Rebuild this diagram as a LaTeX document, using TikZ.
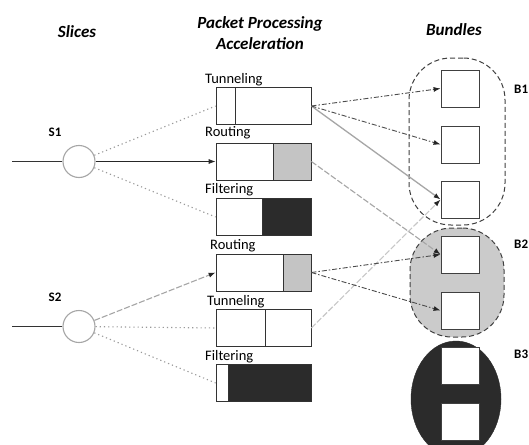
\documentclass[tikz,border=0pt]{standalone}
\usepackage{fontspec}
\setmainfont{Carlito}
\usetikzlibrary{arrows.meta,shapes.geometric,calc}
\pgfdeclarelayer{bg}
\pgfsetlayers{bg,main}
\definecolor{darkfill}{HTML}{2B2B2B}
\definecolor{midgray}{HTML}{C4C4C4}
\definecolor{bundlegray}{HTML}{CBCBCB}
\tikzset{
  titletext/.style={font=\fontsize{17}{21}\selectfont\bfseries\itshape, align=center, inner sep=0pt},
  lbl/.style={font=\fontsize{14.5}{16}\selectfont, anchor=west, inner sep=0pt},
  slbl/.style={font=\fontsize{13}{15}\selectfont\bfseries, inner sep=0pt},
  blbl/.style={font=\fontsize{13}{15}\selectfont\bfseries, anchor=west, inner sep=0pt},
  pbox/.style={draw=black!80, line width=0.8pt, fill=white, minimum width=95pt, minimum height=37pt, inner sep=0pt},
  part/.style 2 args={path picture={
      \fill[#1] ([xshift=-#2]path picture bounding box.north east) rectangle (path picture bounding box.south east);
      \draw[black!80, line width=0.8pt] ([xshift=-#2]path picture bounding box.north east) -- ([xshift=-#2]path picture bounding box.south east);}},
  sq/.style={draw=black!75, line width=0.8pt, fill=white, minimum width=38pt, minimum height=37pt, inner sep=0pt},
  slice/.style={circle, draw=black!35, line width=1.1pt, minimum size=32pt, inner sep=0pt, fill=white},
  bundle/.style={draw=black!75, line width=1pt, dash pattern=on 5pt off 3pt, rounded corners=42pt, inner sep=0pt},
  tip/.style={-{Latex[length=7pt,width=5pt,color=black!85]}},
  darkdash/.style={draw=black!70, line width=0.9pt, dash pattern=on 5pt off 2pt on 1.5pt off 2pt, tip},
  lightline/.style={draw=black!35, line width=1.3pt},
  lightdash/.style={draw=black!35, line width=1.1pt, dash pattern=on 6pt off 2pt},
  dotline/.style={draw=black!40, line width=1.1pt, dash pattern=on 1.2pt off 3pt},
}
\begin{document}
\begin{tikzpicture}[x=1pt,y=-1pt]
\useasboundingbox (0,0) rectangle (529,444);
\fill[white] (0,0) rectangle (529,444);

% titles
\node[titletext] (tS) at (77,32) {Slices};
\node[titletext] (tP) at (260,33) {Packet Processing\\Acceleration};
\node[titletext] (tB) at (454,30) {Bundles};

% slices
\node[slice] (S1) at (79,161.5) {};
\node[slice] (S2) at (79,326.5) {};
\node[slbl] (LS1) at (55,132) {S1};
\node[slbl] (LS2) at (55,297) {S2};
\coordinate (in1) at (12,161.5);
\coordinate (in2) at (12,326.5);
\draw[black!80, line width=0.8pt] (in1) -- (S1);
\draw[black!80, line width=0.8pt] (in2) -- (S2);

% packet processing boxes
\node[pbox, part={white}{76pt}] (T1) at (263.5,106) {};
\node[pbox, part={midgray}{38pt}] (R1) at (263.5,161.5) {};
\node[pbox, part={darkfill}{49pt}] (F1) at (263.5,217) {};
\node[pbox, part={midgray}{28pt}] (R2) at (263.5,272.5) {};
\node[pbox, part={white}{46pt}] (T2) at (263.5,328) {};
\node[pbox, part={darkfill}{83pt}] (F2) at (263.5,383) {};

\node[lbl] (LT1) at (205,80) {Tunneling};
\node[lbl] (LR1) at (205,133) {Routing};
\node[lbl] (LF1) at (205,190) {Filtering};
\node[lbl] (LR2) at (210,246) {Routing};
\node[lbl] (LT2) at (207,302) {Tunneling};
\node[lbl] (LF2) at (205,357) {Filtering};

% bundles
\node[bundle, minimum width=96pt, minimum height=167pt] (B1) at (457,141.5) {};
\node[bundle, fill=bundlegray, minimum width=94pt, minimum height=109pt] (B2) at (457,282.5) {};
\node[ellipse, draw=darkfill, fill=darkfill, minimum width=90pt, minimum height=116pt, inner sep=0pt] (B3) at (456,399) {};

\node[sq] (B1a) at (460,88.5) {};
\node[sq] (B1b) at (460,144.5) {};
\node[sq] (B1c) at (460,199.5) {};
\node[sq] (B2a) at (460,254.5) {};
\node[sq] (B2b) at (460,310.5) {};
\node[sq] (B3a) at (460,365.5) {};
\node[sq] (B3b) at (460,422) {};

\node[blbl] (LB1) at (514,89) {B1};
\node[blbl] (LB2) at (514,244) {B2};
\node[blbl] (LB3) at (514,354) {B3};

% connectors from slices
\draw[dotline] (S1) -- (T1.west);
\draw[black!85, line width=0.8pt, tip] (S1) -- (R1.west);
\draw[dotline] (S1) -- (F1.west);
\draw[lightdash, tip] (S2) -- (R2.west);
\draw[dotline] (S2) -- (T2.west);
\draw[dotline] (S2) -- (F2.west);

% connectors to bundles
\begin{pgfonlayer}{bg}
\draw[lightline] (F1.east) -- (B3a.west);
\draw[lightdash] (F2.east) -- (B3b.west);
\end{pgfonlayer}
\draw[lightdash, draw=black!22, tip] (T2.east) -- (B1c.west);
\draw[lightdash, tip] (R1.east) -- (B2a.west);
\draw[lightline, tip] (T1.east) -- (B1c.west);
\draw[darkdash] (T1.east) -- (B1a.west);
\draw[darkdash] (T1.east) -- (B1b.west);
\draw[darkdash] (R2.east) -- (B2a.west);
\draw[darkdash] (R2.east) -- (B2b.west);
\end{tikzpicture}
\end{document}
